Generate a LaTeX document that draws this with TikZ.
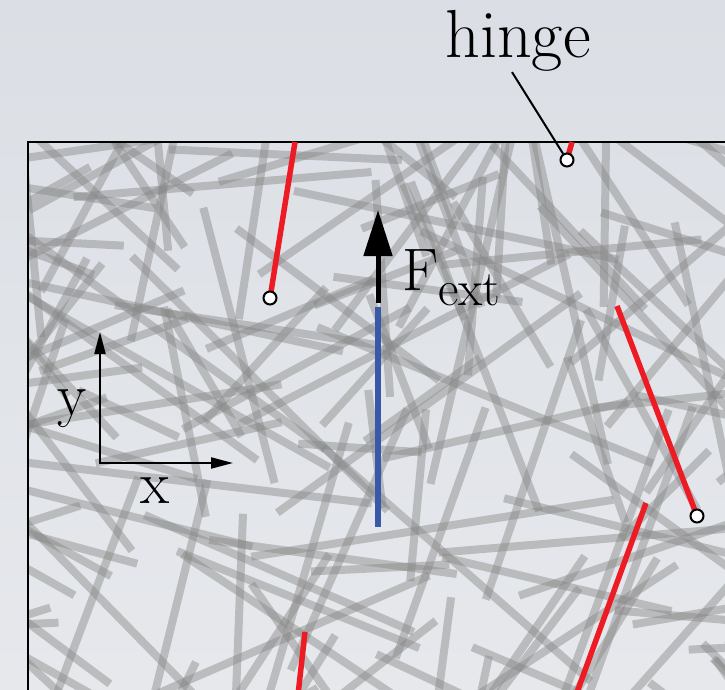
\documentclass[tikz,border=0pt]{standalone}
\usetikzlibrary{arrows.meta}
\definecolor{bgtop}{RGB}{219,223,229}
\definecolor{bgbot}{RGB}{230,232,236}
\definecolor{fibregray}{RGB}{135,135,135}
\definecolor{hred}{RGB}{237,28,36}
\definecolor{pblue}{RGB}{58,88,168}

\begin{document}
\begin{tikzpicture}[
  x=1pt, y=-1pt,
  fibre/.style={line width=8pt, draw=fibregray, opacity=0.45},
  redrod/.style={line width=5.5pt, draw=hred},
  hingept/.style={circle, draw, line width=2pt, fill=white, inner sep=0pt, minimum size=13pt},
  lab/.style={font=\fontsize{60}{60}\selectfont, inner sep=0pt},
  axis/.style={line width=2pt, {Triangle[length=22pt,width=11pt]}-{Triangle[length=22pt,width=11pt]}}
]
\useasboundingbox (0,0) rectangle (725,690);
\shade[top color=bgtop, bottom color=bgbot] (0,0) rectangle (725,690);

% random fibre network
\begin{scope}
\clip (28,142) rectangle (725,690);
\pgfmathsetseed{42}
\foreach \i in {1,...,165} {
  \pgfmathsetmacro{\cx}{-40+rnd*820}
  \pgfmathsetmacro{\cy}{100+rnd*640}
  \pgfmathsetmacro{\ang}{rnd*180}
  \pgfmathsetmacro{\len}{55+rnd*140}
  \draw[fibre] ({\cx-\len*cos(\ang)},{\cy-\len*sin(\ang)}) -- ({\cx+\len*cos(\ang)},{\cy+\len*sin(\ang)});
}
\end{scope}

\draw[line width=2pt] (725,142) -- (28,142) -- (28,690);

% red rods with hinges
\coordinate (h1) at (270,298);
\coordinate (h2) at (567,160);
\coordinate (h3) at (697,516);
\coordinate (r1) at (295,142);
\coordinate (r2) at (572,142);
\coordinate (r3) at (617,306);
\draw[redrod] (r1) -- (h1);
\draw[redrod] (r2) -- (h2);
\draw[redrod] (r3) -- (h3);
\coordinate (r4a) at (646,503);
\coordinate (r4b) at (576,695);
\draw[redrod] (r4a) -- (r4b);
\coordinate (r5a) at (305,632);
\coordinate (r5b) at (298,695);
\draw[redrod] (r5a) -- (r5b);
\node[hingept] (p1) at (h1) {};
\node[hingept] (p2) at (h2) {};
\node[hingept] (p3) at (h3) {};

% pulled fibre and force
\coordinate (b0) at (378,307);
\coordinate (b1) at (378,527);
\draw[line width=6pt, draw=pblue] (b0) -- (b1);
\coordinate (f0) at (378,303);
\coordinate (f1) at (378,210);
\draw[line width=5pt, -{Triangle[length=46pt,width=28pt]}] (f0) -- (f1);
\node[lab, anchor=base west] (fext) at (402,290) {F\raisebox{-15pt}{\fontsize{50}{50}\selectfont ext}};

% axes
\coordinate (o) at (100,463);
\coordinate (ay) at (100,332);
\coordinate (ax) at (233,463);
\draw[axis] (ay) -- (o) -- (ax);
\node[lab, anchor=base] (ylab) at (72,415) {y};
\node[lab, anchor=base] (xlab) at (155,503) {x};

% hinge label
\node[lab, font=\fontsize{68}{68}\selectfont, anchor=base] (hlab) at (518,58) {hinge};
\draw[line width=2pt] ([xshift=-6pt]hlab.south) -- (p2);
\end{tikzpicture}
\end{document}
